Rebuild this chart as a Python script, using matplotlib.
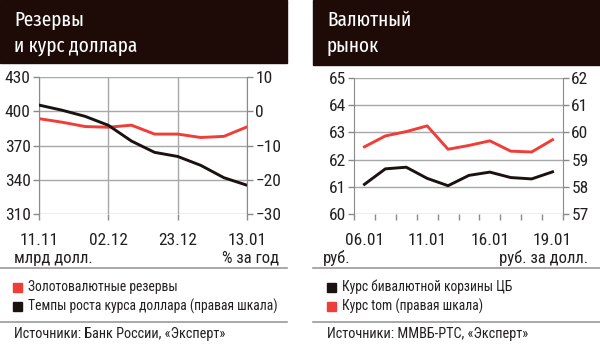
import matplotlib
matplotlib.use('Agg')
import matplotlib.pyplot as plt
from matplotlib.patches import Rectangle
from matplotlib.lines import Line2D

plt.rcParams['font.family'] = ['Roboto Condensed', 'DejaVu Sans']
TITLE_FONT = ['Fira Sans Extra Condensed', 'Roboto Condensed', 'DejaVu Sans']

# --- data: left panel (weekly) ---
weeks = ['11.11', '18.11', '25.11', '02.12', '09.12', '16.12', '23.12', '30.12', '06.01', '13.01']
reserves = [393.5, 390.4, 386.6, 386.0, 387.8, 380.0, 380.0, 377.0, 378.0, 386.3]
usd_growth = [1.8, 0.3, -1.5, -4.1, -8.7, -12.0, -13.2, -15.8, -19.4, -21.6]
left_ticks = ['11.11', '02.12', '23.12', '13.01']

# --- data: right panel (trading days) ---
days = ['06.01', '', '', '11.01', '', '', '16.01', '', '', '19.01']
basket = [61.09, 61.66, 61.72, 61.31, 61.04, 61.42, 61.54, 61.34, 61.29, 61.55]
tom = [59.47, 59.87, 60.03, 60.24, 59.38, 59.52, 59.69, 59.31, 59.28, 59.73]

RED = '#ef3e38'
BLACK = '#1a1210'
HEAD = '#1e0b08'
GRID = '#a8a8a8'
AXC = '#8a8a8a'
TXT = '#231f20'

W, H = 600, 346
fig = plt.figure(figsize=(6, 3.46), dpi=100)


def fx(x):
    return x / W


def fy(y):
    return 1 - y / H


def box(x0, y0, x1, y1):
    return [fx(x0), fy(y1), fx(x1) - fx(x0), fy(y0) - fy(y1)]


def txt(x, y, s, size=10.5, ha='left', color=TXT, **kw):
    fig.text(fx(x), fy(y), s, fontsize=size, ha=ha, va='center', color=color, **kw)


def hline(x0, x1, y):
    fig.add_artist(Line2D([fx(x0), fx(x1)], [fy(y), fy(y)], color='#9a9a9a', lw=1.2))


def square(x, y, c):
    fig.add_artist(Rectangle((fx(x), fy(y + 4.5)), fx(9), 9 / H, color=c))


def style_axes(ax, ax2):
    for a in (ax, ax2):
        for s in a.spines.values():
            s.set_visible(False)
        a.tick_params(colors=TXT, labelsize=12.5, width=1, length=4.5, color=AXC)
        a.tick_params(axis='y', pad=1.5)
    ax.spines['left'].set_visible(True)
    ax.spines['left'].set_color(AXC)
    ax2.spines['right'].set_visible(True)
    ax2.spines['right'].set_color(AXC)
    ax.grid(axis='y', color=GRID, lw=1)
    ax.set_axisbelow(True)
    ax2.tick_params(axis='x', length=0)


# ================= left panel =================
fig.add_artist(Rectangle((0, fy(63)), fx(287), 63 / H, color=HEAD))
txt(14, 20, 'Резервы', size=15, color='white', family=TITLE_FONT)
txt(14, 46, 'и курс доллара', size=15, color='white', family=TITLE_FONT)

ax = fig.add_axes(box(39, 77, 247, 214))
ax2 = ax.twinx()
x = list(range(len(weeks)))
ax.plot(x, reserves, color=RED, lw=2.1)
ax2.plot(x, usd_growth, color=BLACK, lw=2.1)
ax.set_xlim(0, len(weeks) - 1)
ax.set_ylim(310, 430)
ax.set_yticks([310, 340, 370, 400, 430])
ax2.set_ylim(-30, 10)
ax2.set_yticks([-30, -20, -10, 0, 10])
ax.set_xticks([weeks.index(t) for t in left_ticks])
ax.set_xticklabels(left_ticks)
style_axes(ax, ax2)
ax.grid(axis='x', color=GRID, lw=1)
ax.tick_params(axis='x', length=4, pad=9.5)

txt(14, 258, 'млрд долл.', size=12)
txt(279, 258, '% за год', size=12, ha='right')
hline(0, 287, 268)
square(13, 287, RED)
txt(28, 287, 'Золотовалютные резервы', size=9.8)
square(13, 306, BLACK)
txt(28, 306, 'Темпы роста курса доллара (правая шкала)', size=9.8)
hline(0, 287, 322)
txt(14, 334, 'Источники: Банк России, «Эксперт»', size=10.3)

# ================= right panel =================
fig.add_artist(Rectangle((fx(313), fy(65)), fx(287), 65 / H, color=HEAD))
txt(327, 20, 'Валютный', size=15, color='white', family=TITLE_FONT)
txt(327, 46, 'рынок', size=15, color='white', family=TITLE_FONT)

bx = fig.add_axes(box(354, 78, 563, 214))
bx2 = bx.twinx()
n = len(days)
xs = list(range(n))
bx.plot(xs, basket, color=BLACK, lw=2.1)
bx2.plot(xs, tom, color=RED, lw=2.1)
bx.set_xlim(-0.5, n - 0.5)
bx.set_ylim(60, 65)
bx.set_yticks(range(60, 66))
bx2.set_ylim(57, 62)
bx2.set_yticks(range(57, 63))
bx.set_xticks([i for i, d in enumerate(days) if d])
bx.set_xticklabels([d for d in days if d])
bx.set_xticks([i - 0.5 for i in range(n + 1)], minor=True)
style_axes(bx, bx2)
bx.tick_params(axis='x', which='major', length=0, pad=13.5)
bx.tick_params(axis='x', which='minor', length=4, width=1, color=AXC)

txt(323, 258, 'руб.', size=12)
txt(588, 258, 'руб. за долл.', size=12, ha='right')
hline(313, 600, 268)
square(327, 287, BLACK)
txt(342, 287, 'Курс бивалютной корзины ЦБ', size=9.8)
square(327, 306, RED)
txt(342, 306, 'Курс tom (правая шкала)', size=9.8)
hline(313, 600, 322)
txt(327, 334, 'Источники: ММВБ-РТС, «Эксперт»', size=10.3)

fig.savefig('out.png', dpi=100)
